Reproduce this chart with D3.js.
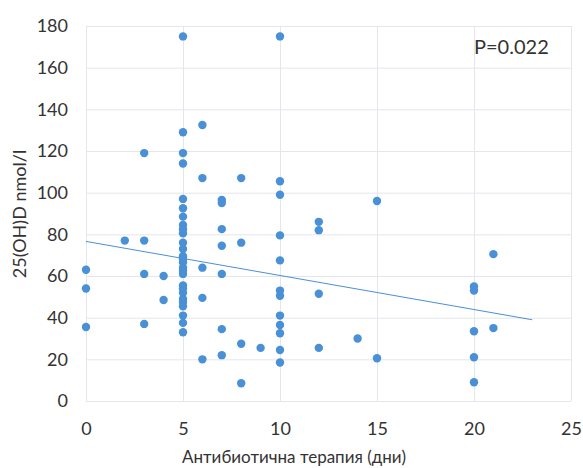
<!DOCTYPE html>
<html>
<head>
    <meta charset="utf-8">
    <title>25(OH)D vs antibiotic therapy</title>
    <script src="https://cdn.jsdelivr.net/npm/d3@7/dist/d3.min.js"></script>
    <style>
        body { margin: 0; background: #fff; }
        text { font-family: Lato, "Open Sans", sans-serif; fill: #333; }
    </style>
</head>
<body>
<script>
    var w = 583, h = 468;
    var margin = {top: 26, right: 12, bottom: 67, left: 86};

    // days of antibiotic therapy, one entry per patient
    var days = [
        0, 0, 0,
        2,
        3, 3, 3, 3,
        4, 4,
        5, 5, 5, 5, 5, 5, 5, 5, 5, 5, 5, 5, 5, 5, 5, 5, 5, 5, 5, 5, 5, 5, 5, 5, 5, 5, 5,
        6, 6, 6, 6, 6,
        7, 7, 7, 7, 7, 7, 7,
        8, 8, 8, 8,
        9,
        10, 10, 10, 10, 10, 10, 10, 10, 10, 10, 10, 10,
        12, 12, 12, 12,
        14,
        15, 15,
        20, 20, 20, 20, 20,
        21, 21
    ];
    // 25(OH)D, nmol/l
    var vitD = [
        63, 54, 35.5,
        77,
        119, 77, 61, 37,
        60, 48.5,
        175, 129, 119, 114, 97, 92.5, 88.5, 84.5, 82.5, 80.5, 76, 73, 69.5, 68, 66.5, 64, 62.5, 61, 55.5, 54, 52, 49, 47.5, 45.5, 41, 37.5, 33,
        132.5, 107, 64, 49.5, 20,
        96.5, 95, 82.5, 74.5, 61, 34.5, 22,
        107, 76, 27.5, 8.5,
        25.5,
        175, 105.5, 99, 79.5, 67.5, 53, 50.5, 41, 36.5, 32.5, 24.5, 18.5,
        86, 82, 51.5, 25.5,
        30,
        96, 20.5,
        55, 53, 33.5, 21, 9,
        70.5, 35
    ];
    // linear trend line end points (x, y)
    var trendX = [0, 23];
    var trendY = [76.6, 39];

    var xTicks = [0, 5, 10, 15, 20, 25];
    var yTicks = [0, 20, 40, 60, 80, 100, 120, 140, 160, 180];

    var svg = d3.select("body").append("svg")
        .attr("width", w)
        .attr("height", h);

    var x = d3.scaleLinear().domain([0, 25]).range([margin.left, w - margin.right]);
    var y = d3.scaleLinear().domain([0, 180]).range([h - margin.bottom, margin.top]);

    // gridlines
    svg.append("g")
        .attr("transform", "translate(0," + (h - margin.bottom) + ")")
        .call(d3.axisBottom(x).tickValues(xTicks).tickSize(-(h - margin.top - margin.bottom)).tickFormat(""))
        .call(function(g) { g.select(".domain").remove(); })
        .selectAll("line").attr("stroke", "#e3e6ec");

    svg.append("g")
        .attr("transform", "translate(" + margin.left + ",0)")
        .call(d3.axisLeft(y).tickValues(yTicks).tickSize(-(w - margin.left - margin.right)).tickFormat(""))
        .call(function(g) { g.select(".domain").remove(); })
        .selectAll("line").attr("stroke", "#e3e6ec");

    // tick labels
    var xAxis = svg.append("g")
        .attr("transform", "translate(0," + (h - margin.bottom) + ")")
        .call(d3.axisBottom(x).tickValues(xTicks).tickSize(0).tickPadding(21));
    xAxis.select(".domain").remove();
    xAxis.selectAll("text").attr("font-size", 18).attr("fill", "#333")
        .style("font-family", "Lato, 'Open Sans', sans-serif");

    var yAxis = svg.append("g")
        .attr("transform", "translate(" + margin.left + ",0)")
        .call(d3.axisLeft(y).tickValues(yTicks).tickSize(0).tickPadding(18));
    yAxis.select(".domain").remove();
    yAxis.selectAll("text").attr("font-size", 18).attr("fill", "#333")
        .style("font-family", "Lato, 'Open Sans', sans-serif");

    // points
    svg.selectAll("circle.pt")
        .data(days)
        .enter()
        .append("circle")
        .attr("class", "pt")
        .attr("cx", function(d) { return x(d); })
        .attr("cy", function(d, i) { return y(vitD[i]); })
        .attr("r", 4.2)
        .attr("fill", "#4a90d7");

    // trend line
    svg.append("line")
        .attr("x1", x(trendX[0])).attr("y1", y(trendY[0]))
        .attr("x2", x(trendX[1])).attr("y2", y(trendY[1]))
        .attr("stroke", "#4a90d7")
        .attr("stroke-width", 1);

    // titles
    svg.append("text")
        .attr("x", 294).attr("y", 463)
        .attr("text-anchor", "middle")
        .attr("font-size", 17)
        .text("Антибиотична терапия (дни)");

    svg.append("text")
        .attr("transform", "translate(26,214) rotate(-90)")
        .attr("text-anchor", "middle")
        .attr("font-size", 18)
        .text("25(OH)D nmol/l");

    svg.append("text")
        .attr("x", 474).attr("y", 54)
        .attr("font-size", 20)
        .text("P=0.022");
</script>
</body>
</html>
